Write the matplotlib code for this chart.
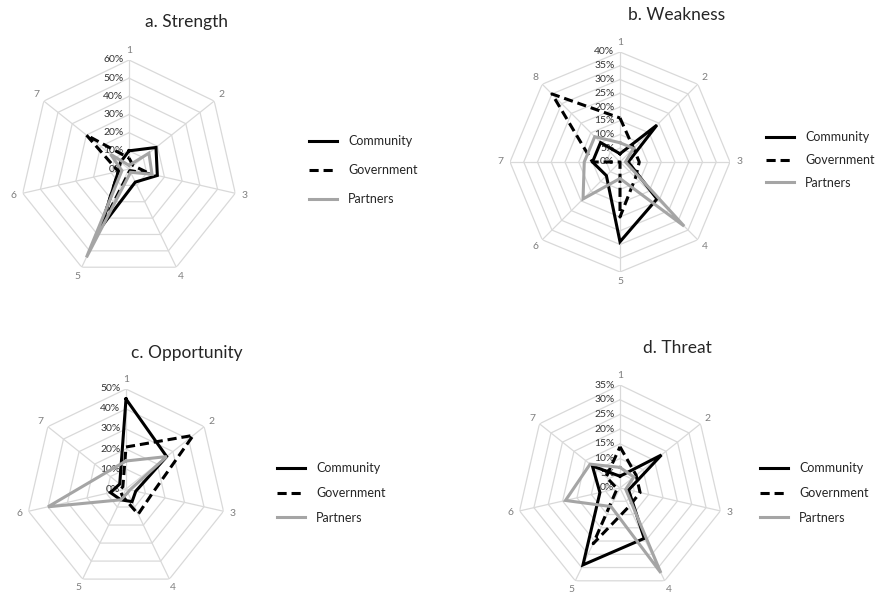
import numpy as np
import matplotlib
matplotlib.use("Agg")
import matplotlib.pyplot as plt
from matplotlib.lines import Line2D

plt.rcParams['font.family'] = ['Lato', 'DejaVu Sans']

# values, in percent
strength_community = [10, 19, 16, 8, 36, 6, 6]
strength_government = [6, 3, 12, 1, 36, 6, 30]
strength_partners = [2, 14, 13, 2, 54, 4, 13]

weakness_community = [3, 19, 3, 19, 29, 7, 10, 10]
weakness_government = [16, 7, 7, 8, 20, 0, 10, 35]
weakness_partners = [7, 7, 2, 33, 6, 19, 13, 13]

opportunity_community = [45, 26, 5, 7, 6, 8, 4]
opportunity_government = [21, 43, 13, 14, 4, 3, 2]
opportunity_partners = [14, 26, 2, 2, 6, 40, 13]

threat_community = [4, 18, 3, 19, 29, 7, 12]
threat_government = [14, 7, 7, 7, 21, 1, 6]
threat_partners = [7, 6, 2, 32, 7, 19, 13]

series_names = ['Community', 'Government', 'Partners']

W, H = 887, 597
fig = plt.figure(figsize=(W / 100, H / 100), dpi=100)

GRID = '#d9d9d9'
STYLES = [dict(color='black', lw=2.2, ls='-'),
          dict(color='black', lw=2.2, ls=(0, (3, 1.6))),
          dict(color='#a5a5a5', lw=2.2, ls='-')]


def radar(cx, cy, R, rmax, step, series, title, title_xy, legend_xy, lab_space):
    n = len(series[0])
    ax = fig.add_axes([(cx - R) / W, 1 - (cy + R) / H, 2 * R / W, 2 * R / H],
                      projection='polar')
    ax.set_theta_zero_location('N')
    ax.set_theta_direction(-1)
    ax.set_ylim(0, rmax)
    ax.grid(False)
    ax.spines['polar'].set_visible(False)
    ax.set_xticks([])
    ax.set_yticks([])
    ax.patch.set_alpha(0)

    theta = np.linspace(0, 2 * np.pi, n, endpoint=False)
    tclose = np.append(theta, theta[0])
    rings = np.arange(step, rmax + step / 2, step)
    for r in rings:
        ax.plot(tclose, [r] * (n + 1), color=GRID, lw=0.9, zorder=1)
    for t in theta:
        ax.plot([t, t], [0, rmax], color=GRID, lw=0.9, zorder=1)
    for i, t in enumerate(theta):
        ax.text(t, rmax * 1.09, str(i + 1), ha='center', va='center',
                fontsize=7.5, color='#7f7f7f')

    for vals, st in zip(series, STYLES):
        v = np.array(vals + vals[:1]) / 100.0
        ax.plot(tclose, v, zorder=3, solid_joinstyle='miter', **st)

    for r in np.append([0], rings):
        ax.annotate('%d%%' % round(r * 100), xy=(0, r), xytext=(-4, 0),
                    textcoords='offset points', ha='right', va='center',
                    fontsize=7.5, color='#333333', zorder=2)

    fig.text(title_xy[0] / W, 1 - title_xy[1] / H, title, ha='center',
             va='center', fontsize=12.5, color='#262626')

    handles = [Line2D([], [], **st) for st in STYLES]
    fig.legend(handles, series_names, loc='center left',
               bbox_to_anchor=(legend_xy[0] / W, 1 - legend_xy[1] / H),
               frameon=False, fontsize=9, handlelength=2.2,
               labelspacing=lab_space, handletextpad=0.9,
               labelcolor='#262626')


radar(129, 169, 109, 0.6, 0.1,
      [strength_community, strength_government, strength_partners],
      'a. Strength', (187, 22), (298, 170), 1.35)
radar(620, 162, 110, 0.4, 0.05,
      [weakness_community, weakness_government, weakness_partners],
      'b. Weakness', (677, 15), (755, 160), 0.85)
radar(126, 489, 100, 0.5, 0.1,
      [opportunity_community, opportunity_government, opportunity_partners],
      'c. Opportunity', (187, 353), (266, 493), 1.0)
radar(620, 488, 103, 0.35, 0.05,
      [threat_community, threat_government, threat_partners],
      'd. Threat', (677, 348), (749, 493), 1.0)

fig.savefig('out.png', dpi=100)
